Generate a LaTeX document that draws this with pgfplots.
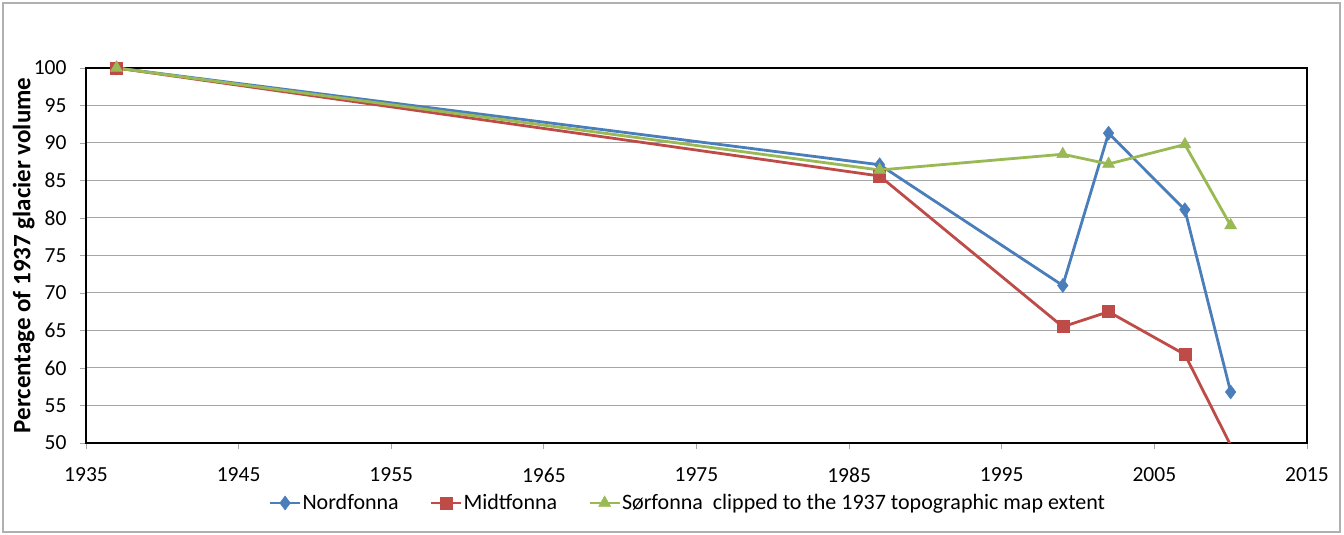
\documentclass[border=0pt]{standalone}
\usepackage{fontspec}
\setmainfont{Carlito}
\usepackage{pgfplots}
\pgfplotsset{compat=1.18}

\definecolor{nordblue}{HTML}{4A7EBB}
\definecolor{midred}{HTML}{BE4B48}
\definecolor{sorgreen}{HTML}{98B954}
\definecolor{gridgrey}{HTML}{A6A6A6}
\definecolor{framegrey}{HTML}{B0B0B0}

\begin{document}
\begin{tikzpicture}
  \useasboundingbox (0pt,0pt) rectangle (1344pt,535pt);
  \draw[framegrey, line width=1.2pt] (3pt,3pt) rectangle (1340pt,532pt);
  \begin{axis}[
    at={(86pt,92pt)}, anchor=south west,
    scale only axis, width=1221pt, height=375pt,
    xmin=1935, xmax=2015, ymin=50, ymax=100,
    xtick={1935,1945,...,2015},
    ytick={50,55,...,100},
    /pgf/number format/1000 sep={},
    /pgf/number format/assume math mode=true,
    tick align=outside, tick pos=left,
    major tick length=6pt,
    every tick/.style={gridgrey, line width=0.8pt},
    axis line style={black, line width=2.6pt},
    ymajorgrids, xmajorgrids=false,
    grid style={gridgrey, line width=1pt},
    tick label style={font=\fontsize{21.5}{24}\selectfont, text=black},
    xticklabel style={yshift=-15pt},
    yticklabel style={xshift=-10pt},
    ylabel={\textbf{Percentage of 1937 glacier volume}},
    ylabel style={font=\fontsize{25}{28}\selectfont, at={(axis description cs:-0.051,0.5)}, anchor=center},
    clip=true,
    legend columns=3,
    legend style={draw=none, fill=none, at={(0.4926,-0.16)}, anchor=center,
      font=\fontsize{22}{25}\selectfont,
      nodes={inner xsep=1pt},
      /tikz/every even column/.append style={column sep=30pt}},
    legend image code/.code={
      \draw[#1, mark repeat=2, mark phase=2] plot coordinates {(0pt,0pt) (15pt,0pt) (30pt,0pt)};
    },
    every axis plot/.append style={line width=2.8pt},
  ]
    \addplot[nordblue, mark=diamond*, mark size=7pt, mark options={solid, line width=0.5pt}]
      coordinates {(1937,100) (1987,87.1) (1999,71.0) (2002,91.3) (2007,81.1) (2010,56.8)};
    \addlegendentry{Nordfonna}
    \addplot[midred, mark=square*, mark size=6pt, mark options={solid, line width=0.5pt}]
      coordinates {(1937,100) (1987,85.6) (1999,65.5) (2002,67.5) (2007,61.8) (2010,49.7)};
    \addlegendentry{Midtfonna}
    \addplot[sorgreen, mark=triangle*, mark size=7pt, mark options={solid, line width=0.5pt}]
      coordinates {(1937,100) (1987,86.4) (1999,88.5) (2002,87.2) (2007,89.8) (2010,79.0)};
    \addlegendentry{Sørfonna\ \ clipped to the 1937 topographic map extent}
  \end{axis}
\end{tikzpicture}
\end{document}
